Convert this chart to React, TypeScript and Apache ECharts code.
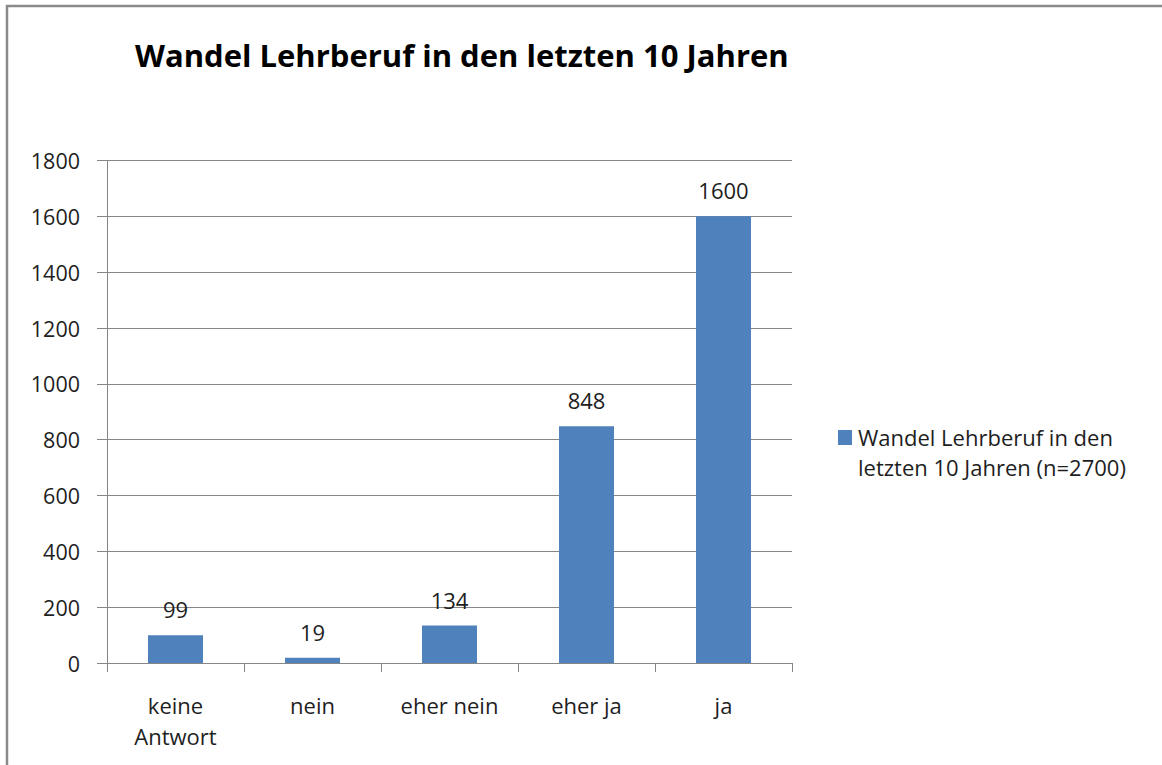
import React, { useEffect, useRef } from "react";
import * as echarts from "echarts";

const chartTitle = "Wandel Lehrberuf in den letzten 10 Jahren";
const seriesName = "Wandel Lehrberuf in den\nletzten 10 Jahren (n=2700)";
const categories = ["keine\nAntwort", "nein", "eher nein", "eher ja", "ja"];
const values = [99, 19, 134, 848, 1600];
const barColor = "#4F81BD";

const FONT = "'Open Sans', 'Noto Sans', sans-serif";
const TEXT = "#1e1e1e";
const LINE = "#868686";

export default function App() {
  const ref = useRef<HTMLDivElement>(null);
  useEffect(() => {
    if (!ref.current) return;
    const chart = echarts.init(ref.current, undefined, { renderer: "svg" });
    chart.setOption({
      animation: false,
      backgroundColor: "#ffffff",
      textStyle: { fontFamily: FONT, color: TEXT },
      title: {
        text: chartTitle,
        left: 130,
        top: 34,
        textStyle: { fontFamily: FONT, fontWeight: "bold", fontSize: 31, color: "#000" },
      },
      legend: { show: false, data: [seriesName] },
      graphic: [
        {
          type: "rect",
          shape: { x: 7, y: 6, width: 1200, height: 800 },
          style: { fill: "none", stroke: "#8a8a8a", lineWidth: 2.5 },
          silent: true,
        },
        {
          type: "rect",
          shape: { x: 838, y: 430, width: 14, height: 15 },
          style: { fill: barColor },
          silent: true,
        },
        {
          type: "text",
          x: 858,
          y: 422,
          style: {
            text: seriesName,
            fontFamily: FONT,
            fontSize: 22,
            lineHeight: 30,
            fill: TEXT,
            verticalAlign: "top",
            align: "left",
          },
          silent: true,
        },
      ],
      grid: { left: 107, right: 370, top: 160.5, bottom: 102, containLabel: false },
      xAxis: {
        type: "category",
        data: categories,
        axisLine: { lineStyle: { color: LINE, width: 1 } },
        axisTick: { show: true, length: 9, lineStyle: { color: LINE } },
        axisLabel: { fontFamily: FONT, fontSize: 22, color: TEXT, lineHeight: 31, margin: 26, interval: 0 },
        splitLine: { show: false },
      },
      yAxis: {
        type: "value",
        min: 0,
        max: 1800,
        interval: 200,
        axisLine: { show: true, lineStyle: { color: LINE, width: 1 } },
        axisTick: { show: true, length: 10, lineStyle: { color: LINE } },
        axisLabel: {
          fontFamily: FONT,
          fontSize: 21.5,
          color: TEXT,
          margin: 27,
          formatter: (v: number) => String(v),
        },
        splitLine: { show: true, lineStyle: { color: LINE, width: 1 } },
      },
      series: [
        {
          name: seriesName,
          type: "bar",
          data: values,
          barWidth: 55,
          itemStyle: { color: barColor },
          label: { show: true, position: "top", distance: 15, fontFamily: FONT, fontSize: 22, color: TEXT },
        },
      ],
    });
    return () => chart.dispose();
  }, []);
  return <div ref={ref} style={{ position: "fixed", left: 0, top: 0, width: 1162, height: 765 }} />;
}
